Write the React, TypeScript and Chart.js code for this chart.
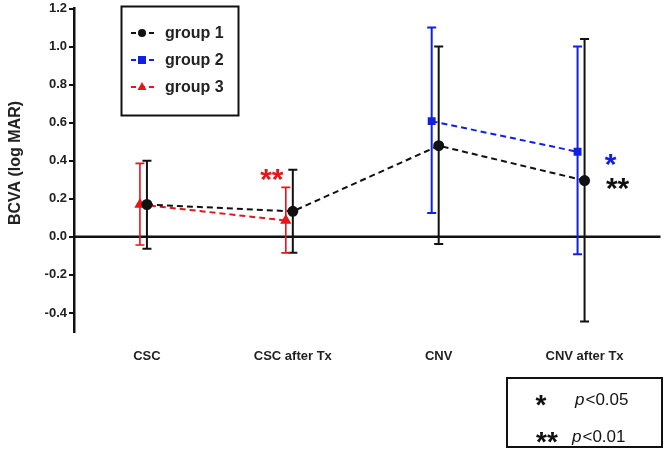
import React, { useEffect, useRef } from "react";
import { Chart, registerables } from "chart.js";

Chart.register(...registerables);

const categories = ["CSC", "CSC after Tx", "CNV", "CNV after Tx"];
const groupLabels = ["group 1", "group 2", "group 3"];
const yTitle = "BCVA (log MAR)";

const group1Mean = [0.17, 0.134, 0.479, 0.296];
const group1Upper = [0.4, 0.352, 1.0, 1.04];
const group1Lower = [-0.063, -0.084, -0.037, -0.445];

const group2Mean = [null, null, 0.608, 0.447];
const group2Upper = [null, null, 1.1, 1.0];
const group2Lower = [null, null, 0.125, -0.092];

const group3Mean = [0.17, 0.086, null, null];
const group3Upper = [0.386, 0.26, null, null];
const group3Lower = [-0.043, -0.084, null, null];

const yTicks = [-0.4, -0.2, 0, 0.2, 0.4, 0.6, 0.8, 1.0, 1.2];

// significance marks: category index, text, colour, y value where drawn, pixel shift
const sigCategory = [1, 3, 3];
const sigText = ["**", "*", "**"];
const sigY = [0.327, 0.41, 0.28];
const sigDx = [-21, 26, 33];
const sigColor = ["#e5161b", "#1020e8", "#111111"];

const pLegendSymbols = ["*", "**"];
const pLegendTexts = ["<0.05", "<0.01"];

const BLACK = "#111111";
const BLUE = "#1020e8";
const RED = "#e5161b";
const FONT = "'Liberation Sans', Arial, sans-serif";
const GROUP_SHIFT = -0.048; // horizontal shift of groups 2/3 (category units)

function toPoints(vals: (number | null)[], shift: number) {
  const pts: { x: number; y: number }[] = [];
  vals.forEach((v, i) => {
    if (v !== null) pts.push({ x: i + shift, y: v });
  });
  return pts;
}

const errorSets = [
  { mean: group1Mean, up: group1Upper, lo: group1Lower, shift: 0, color: BLACK, width: 2 },
  { mean: group2Mean, up: group2Upper, lo: group2Lower, shift: GROUP_SHIFT, color: BLUE, width: 2 },
  { mean: group3Mean, up: group3Upper, lo: group3Lower, shift: GROUP_SHIFT, color: RED, width: 1.6 },
];

function drawStars(ctx: any, text: string, x: number, y: number, size: number) {
  ctx.font = `bold ${size}px ${FONT}`;
  ctx.textAlign = "center";
  ctx.textBaseline = "middle";
  ctx.fillText(text, x, y + size * 0.22);
}

const decorPlugin = {
  id: "decor",
  beforeDatasetsDraw(chart: any) {
    const { ctx, chartArea, scales } = chart;
    const xs = scales.x;
    const ys = scales.y;
    ctx.save();
    // zero line
    const y0 = ys.getPixelForValue(0);
    ctx.strokeStyle = BLACK;
    ctx.lineWidth = 2.5;
    ctx.beginPath();
    ctx.moveTo(chartArea.left, y0);
    ctx.lineTo(chartArea.right + 3, y0);
    ctx.stroke();
    // error bars
    errorSets.forEach((s) => {
      ctx.strokeStyle = s.color;
      ctx.lineWidth = s.width;
      s.mean.forEach((m, i) => {
        if (m === null) return;
        const x = xs.getPixelForValue(i + s.shift);
        const yu = ys.getPixelForValue(s.up[i] as number);
        const yl = ys.getPixelForValue(s.lo[i] as number);
        ctx.beginPath();
        ctx.moveTo(x, yu);
        ctx.lineTo(x, yl);
        ctx.moveTo(x - 4.5, yu);
        ctx.lineTo(x + 4.5, yu);
        ctx.moveTo(x - 4.5, yl);
        ctx.lineTo(x + 4.5, yl);
        ctx.stroke();
      });
    });
    ctx.restore();
  },
  afterDraw(chart: any) {
    const { ctx, scales } = chart;
    const xs = scales.x;
    const ys = scales.y;
    ctx.save();

    // y axis title
    ctx.save();
    ctx.translate(16, 163);
    ctx.rotate(-Math.PI / 2);
    ctx.fillStyle = "#222222";
    ctx.font = `bold 16px ${FONT}`;
    ctx.textAlign = "center";
    ctx.textBaseline = "middle";
    ctx.fillText(yTitle, 0, 0);
    ctx.restore();

    // significance stars
    sigText.forEach((t, i) => {
      ctx.fillStyle = sigColor[i];
      const x = xs.getPixelForValue(sigCategory[i]) + sigDx[i];
      const y = ys.getPixelForValue(sigY[i]);
      drawStars(ctx, t, x, y, 30);
    });

    // series legend box
    ctx.strokeStyle = BLACK;
    ctx.lineWidth = 2;
    ctx.strokeRect(121.5, 6.5, 117, 109);
    const dsets = chart.data.datasets;
    groupLabels.forEach((lab, i) => {
      const y = 33 + 27 * i;
      const ds = dsets[i];
      ctx.strokeStyle = ds.borderColor;
      ctx.lineWidth = 2;
      ctx.setLineDash([5, 4]);
      ctx.beginPath();
      ctx.moveTo(131, y);
      ctx.lineTo(155, y);
      ctx.stroke();
      ctx.setLineDash([]);
      ctx.fillStyle = ds.borderColor;
      const r = 4;
      ctx.beginPath();
      if (ds.pointStyle === "circle") {
        ctx.arc(142, y, r, 0, Math.PI * 2);
      } else if (ds.pointStyle === "rect") {
        ctx.rect(142 - r, y - r, 2 * r, 2 * r);
      } else {
        ctx.moveTo(142, y - r - 1);
        ctx.lineTo(142 + r + 0.5, y + r - 1);
        ctx.lineTo(142 - r - 0.5, y + r - 1);
        ctx.closePath();
      }
      ctx.fill();
      ctx.fillStyle = "#222222";
      ctx.textAlign = "left";
      ctx.textBaseline = "middle";
      ctx.font = `bold 16px ${FONT}`;
      ctx.fillText(lab, 165, y + 1);
    });

    // p-value box
    ctx.strokeStyle = BLACK;
    ctx.lineWidth = 2;
    ctx.strokeRect(507, 378, 155, 69);
    pLegendSymbols.forEach((sym, i) => {
      const y = 400 + 37 * i;
      ctx.fillStyle = "#111111";
      drawStars(ctx, sym, i === 0 ? 541 : 547, y, 28);
      ctx.textAlign = "left";
      ctx.textBaseline = "middle";
      ctx.font = `italic 17px ${FONT}`;
      const px = i === 0 ? 575 : 572;
      ctx.fillText("p", px, y);
      const w = ctx.measureText("p").width;
      ctx.font = `17px ${FONT}`;
      ctx.fillText(pLegendTexts[i], px + w + 1, y);
    });
    ctx.restore();
  },
};

export default function App() {
  const canvasRef = useRef<HTMLCanvasElement | null>(null);

  useEffect(() => {
    document.body.style.margin = "0";
    const canvas = canvasRef.current;
    if (!canvas) return;
    const tickFont = { family: FONT, size: 13, weight: "bold" as const, lineHeight: 1 };
    const chart = new Chart(canvas, {
      type: "line",
      data: {
        datasets: [
          {
            label: groupLabels[0],
            data: toPoints(group1Mean, 0),
            borderColor: BLACK,
            backgroundColor: BLACK,
            borderDash: [6, 4],
            borderWidth: 2,
            pointStyle: "circle",
            pointRadius: 4.5,
          },
          {
            label: groupLabels[1],
            data: toPoints(group2Mean, GROUP_SHIFT),
            borderColor: BLUE,
            backgroundColor: BLUE,
            borderDash: [6, 4],
            borderWidth: 2,
            pointStyle: "rect",
            pointRadius: 4.2,
          },
          {
            label: groupLabels[2],
            data: toPoints(group3Mean, GROUP_SHIFT),
            borderColor: RED,
            backgroundColor: RED,
            borderDash: [6, 4],
            borderWidth: 2,
            pointStyle: "triangle",
            pointRadius: 4.5,
          },
        ],
      },
      options: {
        responsive: false,
        animation: false,
        layout: { padding: { left: 4, right: 4, top: 6, bottom: 0 } },
        plugins: { legend: { display: false }, tooltip: { enabled: false } },
        scales: {
          x: {
            type: "linear",
            min: -0.5,
            max: 3.5,
            afterBuildTicks: (scale: any) => {
              scale.ticks = categories.map((_, i) => ({ value: i }));
            },
            afterFit: (scale: any) => {
              scale.height = 120;
            },
            grid: { display: false },
            border: { display: false },
            ticks: {
              color: "#222222",
              font: tickFont,
              padding: 10,
              maxRotation: 0,
              autoSkip: false,
              callback: (v: any) => categories[Math.round(Number(v))] ?? "",
            },
          },
          y: {
            min: -0.5,
            max: 1.2,
            afterBuildTicks: (scale: any) => {
              scale.ticks = yTicks.map((v) => ({ value: v }));
            },
            afterFit: (scale: any) => {
              scale.width = 70;
            },
            grid: {
              display: true,
              drawOnChartArea: false,
              drawTicks: true,
              tickLength: 5,
              color: BLACK,
              lineWidth: 2,
            },
            border: { display: true, color: BLACK, width: 2.5 },
            ticks: {
              color: "#222222",
              font: tickFont,
              padding: 2,
              callback: (v: any) => Number(v).toFixed(1),
            },
          },
        },
      },
      plugins: [decorPlugin],
    });
    return () => chart.destroy();
  }, []);

  return (
    <div style={{ width: 664, height: 452, background: "#ffffff" }}>
      <canvas ref={canvasRef} width={664} height={452} style={{ display: "block" }} />
    </div>
  );
}
